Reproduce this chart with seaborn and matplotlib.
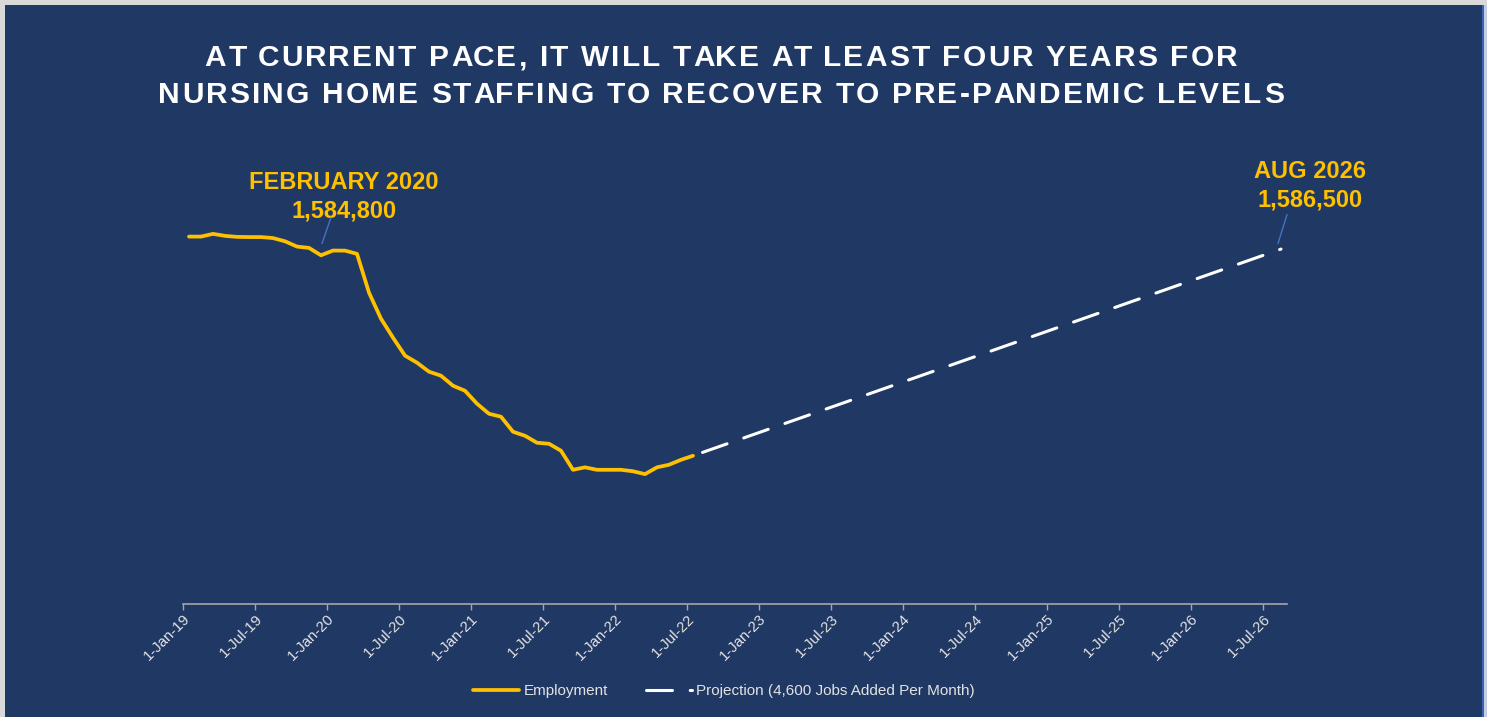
import numpy as np
import pandas as pd
import matplotlib
matplotlib.use("Agg")
import matplotlib.pyplot as plt
import matplotlib.patches as mpatches
import seaborn as sns

# ---------------- data ----------------
employment_start = "2019-01"
employment = [1600100, 1600100, 1603100, 1600900, 1599800, 1599600, 1599600, 1598500,
              1595000, 1589200, 1587800, 1579700,
              1584900, 1584800, 1581300, 1539000, 1510600, 1489900, 1470300, 1462600,
              1452800, 1448400, 1437500, 1432000,
              1417900, 1406900, 1403700, 1387300, 1382900, 1375300, 1374200, 1366600,
              1345800, 1348500, 1345800, 1345800,
              1345800, 1344200, 1341100, 1348500, 1351300, 1356700, 1361100]
projection_months = ["2022-07", "2026-08"]
projection_values = [1361100, 1586500]
tick_labels = ["1-Jan-19", "1-Jul-19", "1-Jan-20", "1-Jul-20", "1-Jan-21", "1-Jul-21",
               "1-Jan-22", "1-Jul-22", "1-Jan-23", "1-Jul-23", "1-Jan-24", "1-Jul-24",
               "1-Jan-25", "1-Jul-25", "1-Jan-26", "1-Jul-26"]
title_lines = ["AT CURRENT PACE, IT WILL TAKE AT LEAST FOUR YEARS FOR",
               "NURSING HOME STAFFING TO RECOVER TO PRE-PANDEMIC LEVELS"]
series_names = ["Employment", "Projection (4,600 Jobs Added Per Month)"]
feb_label = ["FEBRUARY 2020", "1,584,800"]
aug_label = ["AUG 2026", "1,586,500"]

# ---------------- styling ----------------
NAVY = "#203864"
GOLD = "#ffc000"
LEAD = "#4472c4"
TXT = "#e2e2e2"

sns.set_theme(style="white")
plt.rcParams["font.family"] = ["Liberation Sans", "DejaVu Sans"]

base = pd.Period(employment_start, freq="M")
emp_months = pd.period_range(base, periods=len(employment), freq="M")
df_emp = pd.DataFrame({
    "x": [(m - base).n + 0.5 for m in emp_months],
    "value": employment,
    "series": series_names[0],
})
df_proj = pd.DataFrame({
    "x": [(pd.Period(m, freq="M") - base).n + 0.5 for m in projection_months],
    "value": projection_values,
    "series": series_names[1],
})

W, H = 1487, 717
fig = plt.figure(figsize=(W / 100, H / 100), dpi=100, facecolor="#d9d9d9")


def fx(px):
    return px / W


def fy(py):
    return 1 - py / H


for x0, w, c in [(5, 1476.5, NAVY), (1481.5, 2, "#3a64b0"), (1483.5, 3.5, "#c3cbe0")]:
    fig.patches.append(mpatches.Rectangle((fx(x0), 0), w / W, fy(5),
                                          transform=fig.transFigure, facecolor=c,
                                          edgecolor="none", zorder=-10))

ax = fig.add_axes([fx(183), fy(603.5), fx(1287) - fx(183), fy(145) - fy(603.5)])
ax.patch.set_visible(False)

DASH = (8.5, 5.8)
sns.lineplot(data=df_proj, x="x", y="value", ax=ax, color="white", linewidth=2.2,
             linestyle=(11.0, DASH), dash_capstyle="round",
             label=series_names[1], zorder=2)
sns.lineplot(data=df_emp, x="x", y="value", ax=ax, color=GOLD, linewidth=2.7,
             solid_capstyle="round", solid_joinstyle="round",
             label=series_names[0], zorder=3)

ax.set_xlim(0, 92)
ax.set_ylim(1200000, 1700000)
ax.set_xlabel("")
ax.set_ylabel("")
ax.set_yticks([])
ax.set_xticks(np.arange(0, 6 * len(tick_labels), 6))
ax.set_xticklabels(tick_labels)
for s in ["left", "right", "top"]:
    ax.spines[s].set_visible(False)
ax.spines["bottom"].set_color("#a6a6a6")
ax.spines["bottom"].set_linewidth(1.2)
ax.tick_params(axis="x", which="both", bottom=True, direction="out", length=4,
               width=1, color="#a6a6a6", labelcolor=TXT, labelsize=10.8, pad=2)
for lab in ax.get_xticklabels():
    lab.set_rotation(45)
    lab.set_ha("right")
    lab.set_rotation_mode("anchor")

# annotations
ax.text(13.4, 1361100 + (455 - 188) * 1091.5, feb_label[0], color=GOLD,
        fontsize=17, fontweight="bold", ha="center", va="baseline")
ax.text(13.4, 1361100 + (455 - 217) * 1091.5, feb_label[1], color=GOLD,
        fontsize=17, fontweight="bold", ha="center", va="baseline")
ax.annotate("", xy=(11.58, 1592500), xytext=(12.33, 1620900),
            arrowprops=dict(arrowstyle="-", color=LEAD, lw=1, shrinkA=0, shrinkB=0))
ax.text(93.9, 1361100 + (455 - 177) * 1091.5, aug_label[0], color=GOLD,
        fontsize=17, fontweight="bold", ha="center", va="baseline", clip_on=False)
ax.text(93.9, 1361100 + (455 - 206) * 1091.5, aug_label[1], color=GOLD,
        fontsize=17, fontweight="bold", ha="center", va="baseline", clip_on=False)
ax.annotate("", xy=(91.25, 1592500), xytext=(92.0, 1624150),
            arrowprops=dict(arrowstyle="-", color=LEAD, lw=1, shrinkA=0, shrinkB=0),
            annotation_clip=False)

# title with letter spacing (drawn character by character)
renderer = fig.canvas.get_renderer()
title_kw = dict(color="white", fontsize=21.5, fontweight="bold", va="baseline")
spacing_px = 2.2
for line, base_y in zip(title_lines, [66, 103]):
    probe = fig.text(0, 0, line, **title_kw)
    full_w = probe.get_window_extent(renderer).width
    probe.remove()
    total = full_w + spacing_px * (len(line) - 1)
    x_left = 721 - total / 2
    for i, ch in enumerate(line):
        if i:
            pre = fig.text(0, 0, line[:i], **title_kw)
            off = pre.get_window_extent(renderer).width
            pre.remove()
        else:
            off = 0.0
        if ch != " ":
            fig.text(fx(x_left + off + spacing_px * i), fy(base_y), ch, ha="left",
                     **title_kw)

# legend
handles, labels = ax.get_legend_handles_labels()
ax.get_legend().remove()
order = [labels.index(series_names[0]), labels.index(series_names[1])]
leg = fig.legend([handles[i] for i in order], [labels[i] for i in order],
                 loc="center", bbox_to_anchor=(fx(724), fy(691)), ncol=2,
                 frameon=False, fontsize=11, handlelength=3.0, handletextpad=0.3,
                 columnspacing=2.5)
for t in leg.get_texts():
    t.set_color(TXT)
leg.legend_handles[1].set_linestyle((0, DASH))
leg.legend_handles[1].set_dash_capstyle("round")

fig.savefig("out.png", dpi=100, facecolor=fig.get_facecolor())
